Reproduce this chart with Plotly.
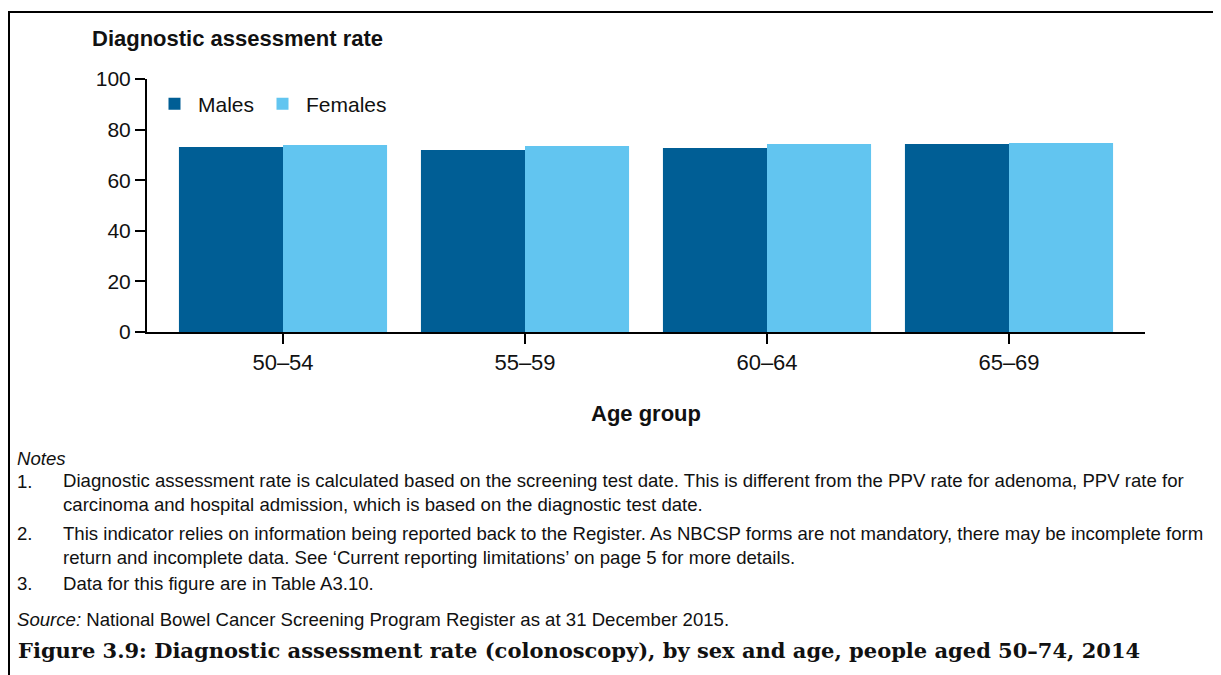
import plotly.graph_objects as go

age_groups = ["50–54", "55–59", "60–64", "65–69"]
males = [73.1, 71.9, 72.7, 74.3]
females = [73.9, 73.5, 74.3, 74.7]
y_ticks = [0, 20, 40, 60, 80, 100]

# The page adds an 8px body margin, so the figure is laid out in page coordinates minus 8.
OFF = 8
W, H = 1221 - OFF, 675 - OFF
L, R, T, B = 147, 1145, 79, 332   # plot area in page pixels

def px(x):
    return (x - L) / (R - L)

def py(y):
    return (B - y) / (B - T)

fig = go.Figure()
fig.add_trace(go.Bar(name="Males", x=age_groups, y=males, legend="legend",
                     marker=dict(color="#005E95", line=dict(width=0))))
fig.add_trace(go.Bar(name="Females", x=age_groups, y=females, legend="legend2",
                     marker=dict(color="#62C5F0", line=dict(width=0))))

font_sans = "Liberation Sans, Arial, sans-serif"

annotations = []
def txt(x, y, s, size=16, bold=False, italic=False, family=font_sans, xanchor="left"):
    if bold:
        s = "<b>" + s + "</b>"
    if italic:
        s = "<i>" + s + "</i>"
    annotations.append(dict(x=px(x), y=py(y), xref="paper", yref="paper", text=s,
                            showarrow=False, xanchor=xanchor, yanchor="middle", align="left",
                            font=dict(family=family, size=size, color="#111111")))

txt(90, 38, "Diagnostic assessment rate", size=22, bold=True)
txt(646, 413, "Age group", size=22, bold=True, xanchor="center")
NS = 18.6
txt(15, 458, "Notes", size=NS, italic=True)
notes = [
    (493, "1.", 481, "Diagnostic assessment rate is calculated based on the screening test date. This is different from the PPV rate for adenoma, PPV rate for<br>"
                 "carcinoma and hospital admission, which is based on the diagnostic test date."),
    (545, "2.", 533, "This indicator relies on information being reported back to the Register. As NBCSP forms are not mandatory, there may be incomplete form<br>"
                 "return and incomplete data. See ‘Current reporting limitations’ on page 5 for more details."),
    (583, "3.", 583, "Data for this figure are in Table A3.10."),
]
for yc, num, yn, s in notes:
    txt(15, yn, num, size=NS)
    txt(61, yc, s, size=NS)
txt(15, 619, "<i>Source:</i> National Bowel Cancer Screening Program Register as at 31 December 2015.", size=NS)
txt(16, 650, "Figure 3.9: Diagnostic assessment rate (colonoscopy), by sex and age, people aged 50–74, 2014",
    size=21, bold=True, family="DejaVu Serif, Liberation Serif, serif")

shapes = [
    dict(type="line", xref="paper", yref="paper", x0=px(9), y0=py(690), x1=px(9), y1=py(11),
         line=dict(color="black", width=2)),
    dict(type="line", xref="paper", yref="paper", x0=px(8), y0=py(12), x1=px(1240), y1=py(12),
         line=dict(color="black", width=2)),
]

legend_common = dict(orientation="h", yanchor="middle", xanchor="left", font=dict(size=21),
                     bgcolor="rgba(0,0,0,0)", itemwidth=37)

fig.update_layout(
    width=W, height=H,
    margin=dict(l=L - OFF, r=W - (R - OFF), t=T - OFF, b=H - (B - OFF), pad=0),
    paper_bgcolor="white", plot_bgcolor="white",
    barmode="group", bargap=0.14, bargroupgap=0,
    font=dict(family=font_sans, size=20, color="#111111"),
    showlegend=True,
    legend=dict(x=px(151), y=py(104), **legend_common),
    legend2=dict(x=px(259), y=py(104), **legend_common),
    xaxis=dict(range=[-0.562, 3.562], showline=True, linecolor="black", linewidth=2,
               ticks="outside", ticklen=10, tickcolor="black", tickwidth=2,
               tickfont=dict(size=22), showgrid=False, zeroline=False, fixedrange=True),
    yaxis=dict(range=[0, 100], tickvals=y_ticks, showline=True, linecolor="black", linewidth=2,
               ticks="outside", ticklen=10, tickcolor="black", tickwidth=2,
               tickfont=dict(size=21), showgrid=False, zeroline=False, fixedrange=True),
    annotations=annotations,
    shapes=shapes,
)

fig.write_html("out.html")
